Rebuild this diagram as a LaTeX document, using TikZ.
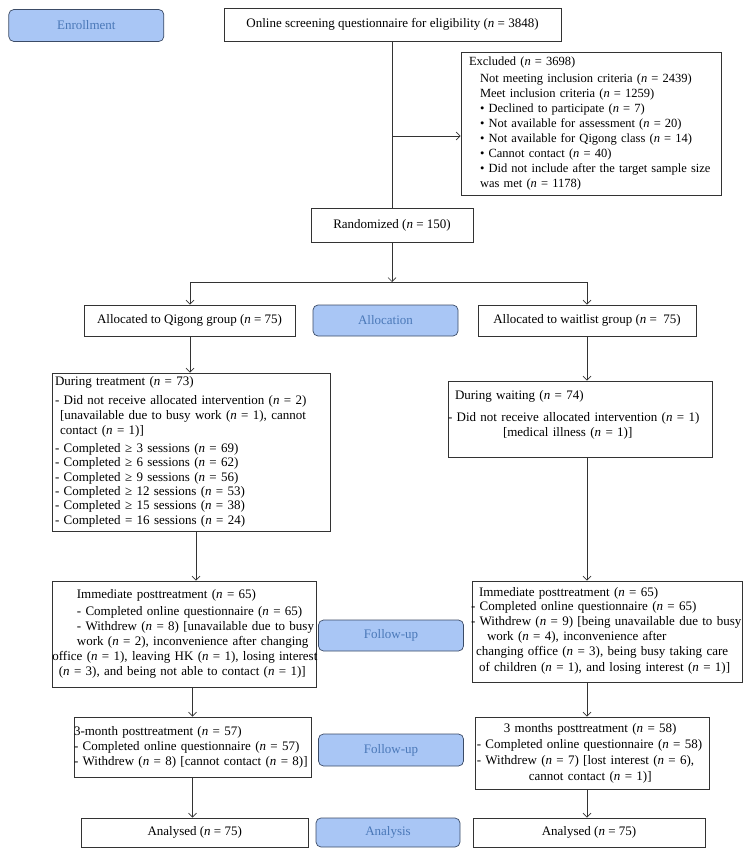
\documentclass[tikz,border=0pt]{standalone}
\usepackage{fontspec}
\setmainfont{Liberation Serif}
\usetikzlibrary{arrows.meta}
\definecolor{bluefill}{HTML}{A9C6F5}
\definecolor{bluedraw}{HTML}{3B4B66}
\definecolor{bluetext}{HTML}{4A78B8}
\definecolor{linec}{HTML}{333333}
\newcommand{\Nn}{\textit{n}}
\newcommand{\fsz}{\fontsize{13}{15}\selectfont}
\newcommand{\fsx}{\fontsize{12.5}{15}\selectfont}
\newcommand{\Tbl}[1]{\begin{tabular}{@{}l@{}}#1\end{tabular}}
\begin{document}
\begin{tikzpicture}[x=1pt,y=-1pt,
  box/.style={draw=linec, line width=0.7pt, inner ysep=0pt, font=\fsz, text=black},
  cbox/.style={box, inner xsep=0pt, align=center},
  bluebox/.style={draw=bluedraw, fill=bluefill, rounded corners=5pt, line width=0.7pt,
    text=bluetext, font=\fsz, inner sep=0pt},
  conn/.style={draw=linec, line width=0.7pt},
  arr/.style={conn, -{Straight Barb[length=4pt,width=8pt]}}]
\useasboundingbox (0,0) rectangle (747,856);

% phase labels
\node[bluebox, minimum width=155pt, minimum height=32pt] (enroll) at (86.3,25.5) {Enrollment};
\node[bluebox, minimum width=145pt, minimum height=31pt] (alloc) at (385.5,320.5) {Allocation};
\node[bluebox, minimum width=145pt, minimum height=31pt] (fu1) at (391,635.5) {Follow-up};
\node[bluebox, minimum width=145pt, minimum height=32pt] (fu2) at (391,750) {Follow-up};
\node[bluebox, minimum width=144pt, minimum height=29pt] (analysis) at (388,832.5) {Analysis};

% main boxes
\node[cbox, minimum width=337pt, minimum height=33pt] (screen) at (392.5,24.7)
  {Online screening questionnaire for eligibility (\Nn{} = 3848)};

\node[box, font=\fsx, minimum width=260pt, minimum height=143pt, text width=244pt, inner xsep=8pt, align=left]
  (excl) at (591,123.5) {\Tbl{Excluded (\Nn{} = 3698)\\[1.5pt]
  \hspace*{11pt}Not meeting inclusion criteria (\Nn{} = 2439)\\
  \hspace*{11pt}Meet inclusion criteria (\Nn{} = 1259)\\
  \hspace*{11pt}\textbullet\ Declined to participate (\Nn{} = 7)\\
  \hspace*{11pt}\textbullet\ Not available for assessment (\Nn{} = 20)\\
  \hspace*{11pt}\textbullet\ Not available for Qigong class (\Nn{} = 14)\\
  \hspace*{11pt}\textbullet\ Cannot contact (\Nn{} = 40)\\
  \hspace*{11pt}\textbullet\ Did not include after the target sample size\\
  \hspace*{11pt}was met (\Nn{} = 1178)}};

\node[cbox, minimum width=162pt, minimum height=34pt] (rand) at (392,225) {Randomized (\Nn{} = 150)};

\node[cbox, minimum width=211pt, minimum height=31pt] (qigong) at (189.5,320.5)
  {Allocated to Qigong group (\Nn{} = 75)};
\node[cbox, minimum width=218pt, minimum height=31pt] (wait) at (587,320.5)
  {Allocated to waitlist group (\Nn{} =~~75)};

\node[box, minimum width=278pt, minimum height=158pt, text width=272pt, inner xsep=3pt, align=left]
  (treat) at (191,452) {\Tbl{During treatment (\Nn{} = 73)\\[3.5pt]
  - Did not receive allocated intervention (\Nn{} = 2)\\
  \hspace*{5pt}[unavailable due to busy work (\Nn{} = 1), cannot\\
  \hspace*{5pt}contact (\Nn{} = 1)]\\[3pt]
  - Completed ≥ 3 sessions (\Nn{} = 69)\\[-0.6pt]
  - Completed ≥ 6 sessions (\Nn{} = 62)\\[-0.6pt]
  - Completed ≥ 9 sessions (\Nn{} = 56)\\[-0.6pt]
  - Completed ≥ 12 sessions (\Nn{} = 53)\\[-0.6pt]
  - Completed ≥ 15 sessions (\Nn{} = 38)\\[-0.6pt]
  - Completed = 16 sessions (\Nn{} = 24)}};

\node[box, minimum width=264pt, minimum height=76pt, text width=264pt, inner xsep=0pt, align=left]
  (waiting) at (580,419) {\Tbl{\hspace*{7pt}During waiting (\Nn{} = 74)\\[7pt]
  - Did not receive allocated intervention (\Nn{} = 1)\\
  \hspace*{55pt}[medical illness (\Nn{} = 1)]\\[-6pt]
  \mbox{}}};

\node[box, minimum width=264pt, minimum height=106pt, text width=260pt, inner xsep=2pt, align=left]
  (immL) at (183.9,633.9) {\Tbl{\hspace*{23pt}Immediate posttreatment (\Nn{} = 65)\\[2pt]
  \hspace*{23pt}- Completed online questionnaire (\Nn{} = 65)\\
  \hspace*{23pt}- Withdrew (\Nn{} = 8) [unavailable due to busy\\
  \hspace*{23pt}work (\Nn{} = 2), inconvenience after changing\\
  \hspace*{-1.5pt}office (\Nn{} = 1), leaving HK (\Nn{} = 1), losing interest\\
  \hspace*{5pt}(\Nn{} = 3), and being not able to contact (\Nn{} = 1)]}};

\node[box, minimum width=270pt, minimum height=101pt, text width=270pt, inner xsep=0pt, align=left]
  (immR) at (607,631.4) {\Tbl{\hspace*{7pt}Immediate posttreatment (\Nn{} = 65)\\[-1pt]
  \hspace*{-1pt}- Completed online questionnaire (\Nn{} = 65)\\
  \hspace*{-1pt}- Withdrew (\Nn{} = 9) [being unavailable due to busy\\
  \hspace*{15pt}work (\Nn{} = 4), inconvenience after\\
  \hspace*{4pt}changing office (\Nn{} = 3), being busy taking care\\[1pt]
  \hspace*{7pt}of children (\Nn{} = 1), and losing interest (\Nn{} = 1)]}};

\node[box, minimum width=237pt, minimum height=60pt, text width=237pt, inner xsep=0pt, align=left]
  (m3L) at (192.5,747) {\Tbl{3-month posttreatment (\Nn{} = 57)\\
  - Completed online questionnaire (\Nn{} = 57)\\
  - Withdrew (\Nn{} = 8) [cannot contact (\Nn{} = 8)]}};

\node[box, minimum width=234pt, minimum height=72pt, text width=234pt, inner xsep=0pt, align=left]
  (m3R) at (592.8,753) {\Tbl{\hspace*{28pt}3 months posttreatment (\Nn{} = 58)\\[1pt]
  \hspace*{1pt}- Completed online questionnaire (\Nn{} = 58)\\[1pt]
  \hspace*{1pt}- Withdrew (\Nn{} = 7) [lost interest (\Nn{} = 6),\\[1pt]
  \hspace*{53pt}cannot contact (\Nn{} = 1)]}};

\node[cbox, minimum width=227pt, minimum height=29pt] (anL) at (194.7,832.5) {Analysed (\Nn{} = 75)};
\node[cbox, minimum width=232pt, minimum height=29pt] (anR) at (589,832.5) {Analysed (\Nn{} = 75)};

% connectors
\coordinate (ex) at (392,136);
\coordinate (jl) at (190,282);
\coordinate (jr) at (587,282);
\draw[conn] (screen.south -| rand.north) -- (rand.north);
\draw[arr] (ex) -- (ex -| excl.west);
\draw[arr] (rand.south) -- (rand.south |- jl);
\draw[conn] (jl) -- (jr);
\draw[arr] (jl) -- (jl |- qigong.north);
\draw[arr] (jr) -- (jr |- wait.north);
\draw[arr] (qigong.south -| jl) -- (jl |- treat.north);
\draw[arr] (wait.south) -- (wait.south |- waiting.north);
\draw[arr] ([xshift=5pt]treat.south) -- ([xshift=5pt]treat.south |- immL.north);
\draw[arr] (wait |- waiting.south) -- (wait |- immR.north);
\draw[arr] (m3L.north |- immL.south) -- (m3L.north);
\draw[arr] (wait |- immR.south) -- (wait |- m3R.north);
\draw[arr] (m3L.south) -- (m3L.south |- anL.north);
\draw[arr] (wait |- m3R.south) -- (wait |- anR.north);
\end{tikzpicture}
\end{document}
